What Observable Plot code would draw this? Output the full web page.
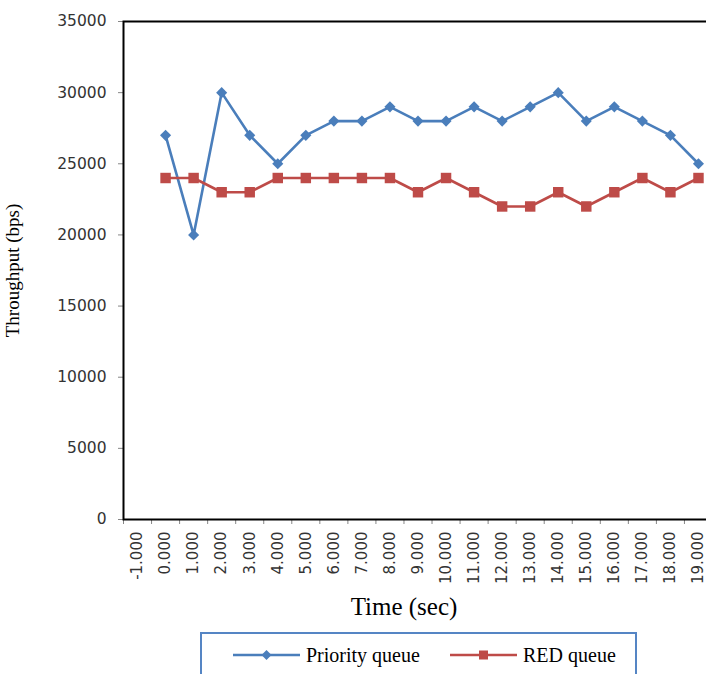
<!DOCTYPE html>
<html>
<head>
<meta charset="utf-8">
<script src="https://cdn.jsdelivr.net/npm/d3@7"></script>
<script src="https://cdn.jsdelivr.net/npm/@observablehq/plot@0.6"></script>
<style>
  html, body { margin: 0; padding: 0; background: white; overflow: hidden; }
  #wrap { position: relative; width: 706px; height: 674px; overflow: hidden; }
  #legend { position: absolute; left: 200px; top: 632px; width: 437px; height: 60px;
    box-sizing: border-box; border: 2px solid #5585c4; background: white;
    font-family: "Liberation Serif", serif; font-size: 20px; color: #000; }
  .item { position: absolute; top: 9px; height: 24px; display: flex; align-items: center; }
  .item svg { display: block; }
  .item span { margin-left: 6px; line-height: 24px; }
</style>
</head>
<body>
<div id="wrap"></div>
<script>
const xLabels = ["-1.000","0.000","1.000","2.000","3.000","4.000","5.000","6.000","7.000","8.000","9.000","10.000","11.000","12.000","13.000","14.000","15.000","16.000","17.000","18.000","19.000"];
const xTickValues = [-1,0,1,2,3,4,5,6,7,8,9,10,11,12,13,14,15,16,17,18,19];
const times = [0,1,2,3,4,5,6,7,8,9,10,11,12,13,14,15,16,17,18,19];
const priorityQueue = [27000,20000,30000,27000,25000,27000,28000,28000,29000,28000,28000,29000,28000,29000,30000,28000,29000,28000,27000,25000];
const redQueue = [24000,24000,23000,23000,24000,24000,24000,24000,24000,23000,24000,23000,22000,22000,23000,22000,23000,24000,23000,24000];
const yTicks = [0,5000,10000,15000,20000,25000,30000,35000];
const seriesNames = ["Priority queue","RED queue"];
const colors = ["#4a7ebb","#be4b48"];

const boundaries = xTickValues.map(v => v - 0.5).concat([xTickValues[xTickValues.length-1] + 0.5]);
const prData = times.map((t, i) => ({t, v: priorityQueue[i]}));
const redData = times.map((t, i) => ({t, v: redQueue[i]}));

const chart = Plot.plot({
  width: 706,
  height: 630,
  marginTop: 21,
  marginLeft: 123,
  marginRight: -6,
  marginBottom: 111,
  style: {fontFamily: "DejaVu Sans", fontSize: "15px", background: "white", overflow: "hidden"},
  x: {domain: [-1.5, 19.5]},
  y: {domain: [0, 35000]},
  marks: [
    Plot.axisY({ticks: yTicks, tickFormat: d => String(d), tickSize: 5, tickPadding: 12, stroke: "#868686", fill: "#333", fontSize: 15.5, label: null}),
    Plot.axisX({ticks: boundaries, tickSize: 5, tickFormat: () => "", stroke: "#868686", label: null}),
    Plot.axisX({ticks: xTickValues, tickFormat: d => xLabels[xTickValues.indexOf(d)], tickSize: 0, tickPadding: 12, tickRotate: -90, fill: "#333", fontSize: 15, label: null}),
    Plot.frame({stroke: "#000", strokeWidth: 2}),
    Plot.line(prData, {x: "t", y: "v", stroke: colors[0], strokeWidth: 2.6}),
    Plot.dot(prData, {x: "t", y: "v", symbol: "diamond2", r: 5, fill: colors[0], stroke: "none"}),
    Plot.line(redData, {x: "t", y: "v", stroke: colors[1], strokeWidth: 2.6}),
    Plot.dot(redData, {x: "t", y: "v", symbol: "square", r: 5.9, fill: colors[1], stroke: "none"}),
    Plot.text(["Time (sec)"], {text: d => d, frameAnchor: "bottom", textAnchor: "middle", dx: -14, dy: 95, lineAnchor: "bottom", fontFamily: "Liberation Serif", fontSize: 25, fill: "#000"}),
    Plot.text(["Throughput (bps)"], {text: d => d, frameAnchor: "left", textAnchor: "middle", dx: -111, rotate: -90, lineAnchor: "middle", fontFamily: "Liberation Serif", fontSize: 19, fill: "#000"})
  ]
});
const wrap = document.getElementById("wrap");
wrap.appendChild(chart);

// legend (HTML, below the SVG)
const legend = document.createElement("div");
legend.id = "legend";
const lefts = [31, 248];
const symbols = ["diamond", "square"];
seriesNames.forEach((name, i) => {
  const item = document.createElement("div");
  item.className = "item";
  item.style.left = lefts[i] + "px";
  const sw = d3.create("svg").attr("width", 67).attr("height", 14);
  sw.append("line").attr("x1", 0).attr("x2", 67).attr("y1", 7).attr("y2", 7)
    .attr("stroke", colors[i]).attr("stroke-width", 2.5);
  if (symbols[i] === "diamond") {
    sw.append("path").attr("d", "M33.5,2 L38.5,7 L33.5,12 L28.5,7 Z").attr("fill", colors[i]);
  } else {
    sw.append("rect").attr("x", 29).attr("y", 2.5).attr("width", 9).attr("height", 9).attr("fill", colors[i]);
  }
  item.appendChild(sw.node());
  const span = document.createElement("span");
  span.textContent = name;
  item.appendChild(span);
  legend.appendChild(item);
});
wrap.appendChild(legend);
</script>
</body>
</html>
